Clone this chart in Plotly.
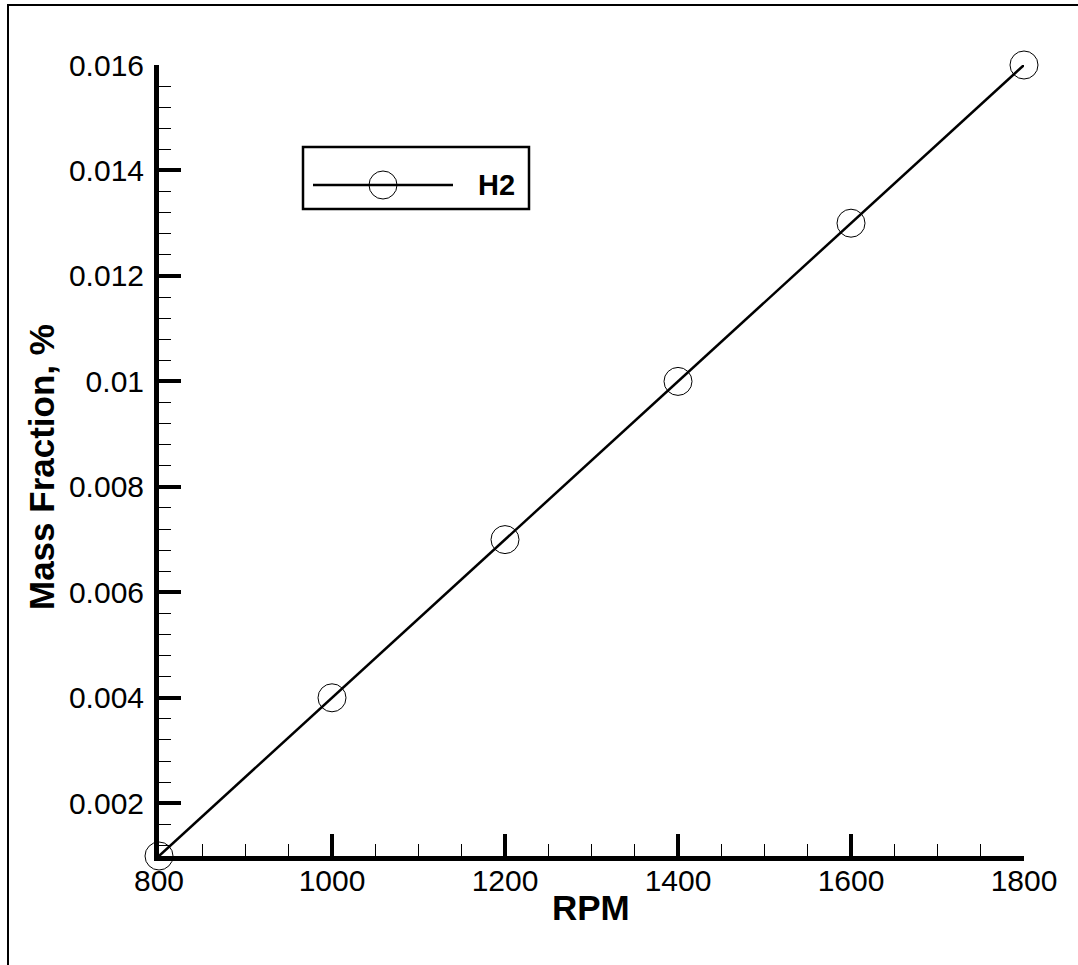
import plotly.graph_objects as go

# ---- data ----
rpm = [800, 1000, 1200, 1400, 1600, 1800]
h2_mass_fraction = [0.001, 0.004, 0.007, 0.010, 0.013, 0.016]

x_tickvals = [800, 1000, 1200, 1400, 1600, 1800]
x_ticktext = ["800", "1000", "1200", "1400", "1600", "1800"]
y_tickvals = [0.002, 0.004, 0.006, 0.008, 0.010, 0.012, 0.014, 0.016]
y_ticktext = ["0.002", "0.004", "0.006", "0.008", "0.01", "0.012", "0.014", "0.016"]
series_name = "H2"
x_title = "RPM"
y_title = "Mass Fraction, %"

W, H = 1078, 965
L, R, T, B = 159, 54, 65, 109
PW, PH = W - L - R, H - T - B

def px(xp):
    return (xp - L) / PW

def py(yp):
    return (H - B - yp) / PH

FONT = "Liberation Sans, Arial, sans-serif"

fig = go.Figure()
fig.add_trace(go.Scatter(
    x=rpm, y=h2_mass_fraction, mode="lines+markers", name=series_name,
    line=dict(color="black", width=2.5),
    marker=dict(symbol="circle-open", size=28, color="black", line=dict(width=1, color="black")),
    cliponaxis=False, showlegend=False,
))

fig.update_layout(
    width=W, height=H,
    margin=dict(l=L, r=R, t=T, b=B),
    paper_bgcolor="white", plot_bgcolor="white",
    font=dict(family=FONT, color="black", size=30),
    xaxis=dict(
        range=[800, 1800], tickmode="array", tickvals=x_tickvals, ticktext=x_ticktext,
        ticks="inside", ticklen=22, tickwidth=4, tickcolor="black",
        showline=True, linewidth=5, linecolor="black", showgrid=False, zeroline=False,
        tickfont=dict(size=30), ticklabelstandoff=-6,
        minor=dict(tickmode="linear", tick0=800, dtick=50, ticks="inside", ticklen=12,
                   tickwidth=1.2, tickcolor="black", showgrid=False),
        automargin=False,
    ),
    yaxis=dict(
        range=[0.001, 0.016], tickmode="array", tickvals=y_tickvals, ticktext=y_ticktext,
        ticks="inside", ticklen=22, tickwidth=4, tickcolor="black",
        showline=True, linewidth=5, linecolor="black", showgrid=False, zeroline=False,
        tickfont=dict(size=30), ticklabelstandoff=4,
        minor=dict(tickmode="linear", tick0=0, dtick=0.0004, ticks="inside", ticklen=12,
                   tickwidth=1.2, tickcolor="black", showgrid=False),
        automargin=False,
    ),
    showlegend=False,
)

# axis titles
fig.add_annotation(xref="paper", yref="paper", x=px(591), y=py(908),
                   text="<b>" + x_title + "</b>", showarrow=False,
                   font=dict(size=35, family=FONT, color="black"),
                   xanchor="center", yanchor="middle")
fig.add_annotation(xref="paper", yref="paper", x=px(42), y=py(467),
                   text="<b>" + y_title + "</b>", showarrow=False, textangle=-90,
                   font=dict(size=35, family=FONT, color="black"),
                   xanchor="center", yanchor="middle")

# outer frame
fig.add_shape(type="rect", xref="paper", yref="paper",
              x0=px(8), x1=px(1095), y0=py(985), y1=py(5),
              line=dict(color="black", width=2), fillcolor="rgba(0,0,0,0)", layer="above")

# legend (manual)
fig.add_shape(type="rect", xref="paper", yref="paper",
              x0=px(303), x1=px(529), y0=py(209), y1=py(147),
              line=dict(color="black", width=2.5), fillcolor="white", layer="above")
fig.add_shape(type="line", xref="paper", yref="paper",
              x0=px(313), x1=px(453), y0=py(185), y1=py(185),
              line=dict(color="black", width=2.5), layer="above")
fig.add_shape(type="circle", xref="paper", yref="paper",
              xsizemode="pixel", ysizemode="pixel",
              xanchor=px(383), yanchor=py(185), x0=-14, x1=14, y0=-14, y1=14,
              line=dict(color="black", width=1), layer="above")
fig.add_annotation(xref="paper", yref="paper", x=px(496), y=py(185),
                   text="<b>" + series_name + "</b>", showarrow=False,
                   font=dict(size=29, family=FONT, color="black"),
                   xanchor="center", yanchor="middle")

fig.write_html("out.html")
